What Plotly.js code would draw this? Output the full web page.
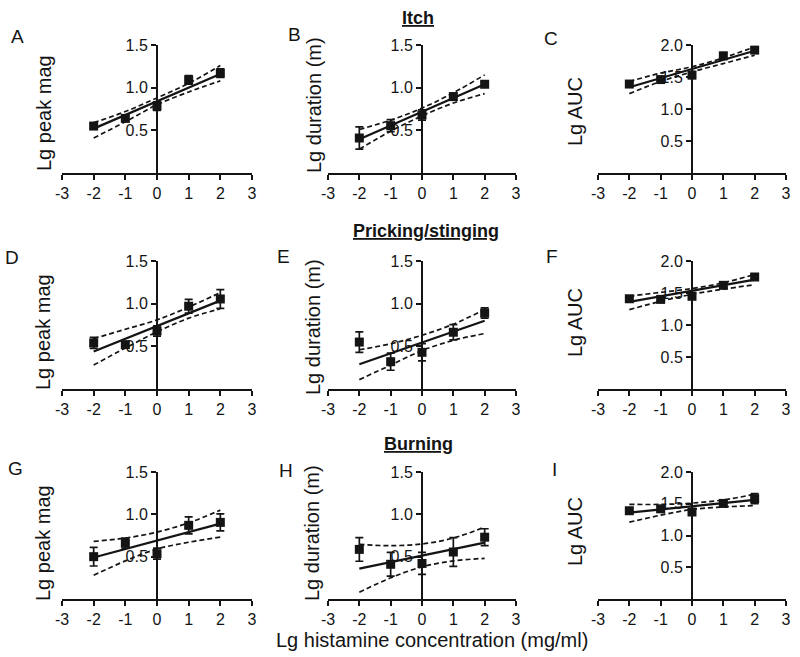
<!DOCTYPE html>
<html>
<head>
<meta charset="utf-8">
<script src="https://cdn.plot.ly/plotly-3.0.1.min.js"></script>
<style>html,body{margin:0;padding:0;background:#fff;}#chart{width:800px;height:657px;}</style>
</head>
<body>
<div id="chart"></div>
<script>
// ---- data ----
const doses = [-2, -1, 0, 1, 2];
const fitX = [-2, 2];
const xTickVals = [-3, -2, -1, 0, 1, 2, 3];
const xTickText = ['-3', '-2', '-1', '0', '1', '2', '3'];
const yTickVals15 = [0.5, 1.0, 1.5];
const yTickText15 = ['0.5', '1.0', '1.5'];
const yTickVals20 = [0.5, 1.0, 1.5, 2.0];
const yTickText20 = ['0.5', '1.0', '1.5', '2.0'];

const panelLetters = ['A', 'B', 'C', 'D', 'E', 'F', 'G', 'H', 'I'];
const yTitles = ['Lg peak mag', 'Lg duration (m)', 'Lg AUC'];
const rowHeadings = ['Itch', 'Pricking/stinging', 'Burning'];
const xTitle = 'Lg histamine concentration (mg/ml)';

const A_mean = [0.55, 0.64, 0.785, 1.09, 1.17];
const A_err = [0.03, 0.02, 0.05, 0.05, 0.05];
const A_fit = [0.52, 1.16];
const A_upper = [0.59, 0.72, 0.88, 1.05, 1.26];
const A_lower = [0.41, 0.60, 0.80, 0.95, 1.08];

const B_mean = [0.41, 0.555, 0.68, 0.895, 1.04];
const B_err = [0.13, 0.07, 0.06, 0.04, 0.02];
const B_fit = [0.395, 1.04];
const B_upper = [0.51, 0.62, 0.76, 0.94, 1.15];
const B_lower = [0.28, 0.49, 0.67, 0.82, 0.93];

const C_mean = [1.39, 1.46, 1.53, 1.83, 1.92];
const C_err = [0.03, 0.03, 0.05, 0.05, 0.03];
const C_fit = [1.34, 1.91];
const C_upper = [1.43, 1.56, 1.66, 1.80, 1.97];
const C_lower = [1.24, 1.43, 1.58, 1.71, 1.84];

const D_mean = [0.54, 0.52, 0.68, 0.97, 1.055];
const D_err = [0.065, 0.03, 0.06, 0.08, 0.11];
const D_fit = [0.44, 1.035];
const D_upper = [0.59, 0.70, 0.81, 0.96, 1.13];
const D_lower = [0.28, 0.48, 0.67, 0.83, 0.94];

const E_mean = [0.55, 0.32, 0.43, 0.665, 0.89];
const E_err = [0.12, 0.10, 0.10, 0.09, 0.06];
const E_fit = [0.29, 0.80];
const E_upper = [0.46, 0.53, 0.63, 0.76, 0.93];
const E_lower = [0.11, 0.28, 0.45, 0.57, 0.65];

const F_mean = [1.41, 1.40, 1.45, 1.62, 1.75];
const F_err = [0.03, 0.03, 0.05, 0.03, 0.04];
const F_fit = [1.36, 1.71];
const F_upper = [1.45, 1.51, 1.57, 1.66, 1.79];
const F_lower = [1.24, 1.37, 1.48, 1.56, 1.63];

const G_mean = [0.50, 0.66, 0.535, 0.87, 0.905];
const G_err = [0.11, 0.06, 0.065, 0.10, 0.10];
const G_fit = [0.49, 0.89];
const G_upper = [0.68, 0.72, 0.79, 0.90, 1.05];
const G_lower = [0.28, 0.45, 0.59, 0.67, 0.73];

const H_mean = [0.586, 0.41, 0.42, 0.555, 0.73];
const H_err = [0.14, 0.14, 0.13, 0.17, 0.10];
const H_fit = [0.36, 0.665];
const H_upper = [0.645, 0.63, 0.65, 0.72, 0.85];
const H_lower = [0.08, 0.25, 0.38, 0.45, 0.48];

const I_mean = [1.39, 1.42, 1.37, 1.505, 1.58];
const I_err = [0.03, 0.04, 0.03, 0.04, 0.08];
const I_fit = [1.36, 1.56];
const I_upper = [1.49, 1.49, 1.51, 1.56, 1.65];
const I_lower = [1.21, 1.32, 1.41, 1.45, 1.47];

const panels = [
  [A_mean, A_err, A_fit, A_upper, A_lower],
  [B_mean, B_err, B_fit, B_upper, B_lower],
  [C_mean, C_err, C_fit, C_upper, C_lower],
  [D_mean, D_err, D_fit, D_upper, D_lower],
  [E_mean, E_err, E_fit, E_upper, E_lower],
  [F_mean, F_err, F_fit, F_upper, F_lower],
  [G_mean, G_err, G_fit, G_upper, G_lower],
  [H_mean, H_err, H_fit, H_upper, H_lower],
  [I_mean, I_err, I_fit, I_upper, I_lower]
];

// ---- layout geometry (pixels) ----
const W = 800, H = 657;
const colPx = [[62, 252], [328, 516], [598, 786]];
const rowPx = [[45, 173], [261, 389], [472, 599]];
const px = x => x / W;
const py = y => 1 - y / H;

const FONT = 'Liberation Sans, Arial, sans-serif';
const INK = '#141414';

const traces = [];
const layout = {
  width: W, height: H,
  margin: {l: 0, r: 0, t: 0, b: 0},
  paper_bgcolor: '#fff', plot_bgcolor: 'rgba(0,0,0,0)',
  showlegend: false,
  font: {family: FONT, color: INK, size: 16},
  annotations: []
};

const letterPos = [[17, 36], [294, 35], [551, 39], [12, 257], [283, 256], [552, 256], [15, 468], [286, 470], [554, 469]];
const yTitlePos = [[44, 113], [314, 105], [575, 112], [43, 332], [313, 327], [575, 323], [43, 543], [312, 533], [575, 532]];
const headingPos = [[418, 18], [426, 231], [418, 444]];

panels.forEach((p, i) => {
  const r = Math.floor(i / 3), c = i % 3;
  const sfx = i === 0 ? '' : String(i + 1);
  const xa = 'x' + sfx, ya = 'y' + sfx;
  const [mean, err, fit, upper, lower] = p;
  const isAUC = c === 2;

  traces.push({x: doses, y: upper, xaxis: xa, yaxis: ya, mode: 'lines', line: {color: INK, width: 1.7, dash: '5px,3px', shape: 'spline'}, hoverinfo: 'skip'});
  traces.push({x: doses, y: lower, xaxis: xa, yaxis: ya, mode: 'lines', line: {color: INK, width: 1.7, dash: '5px,3px', shape: 'spline'}, hoverinfo: 'skip'});
  traces.push({x: fitX, y: fit, xaxis: xa, yaxis: ya, mode: 'lines', line: {color: INK, width: 2.3}, hoverinfo: 'skip'});
  traces.push({x: doses, y: mean, xaxis: xa, yaxis: ya, mode: 'markers',
    marker: {symbol: 'square', size: 9, color: INK},
    error_y: {type: 'data', array: err, visible: true, color: INK, thickness: 1.7, width: 4}});

  const d0 = px(colPx[c][0]), d1 = px(colPx[c][1]);
  layout['xaxis' + sfx] = {
    domain: [d0, d1], range: [-3, 3], anchor: ya,
    showline: true, linecolor: INK, linewidth: 2,
    ticks: 'outside', ticklen: 5, tickwidth: 2, tickcolor: INK,
    tickvals: xTickVals, ticktext: xTickText,
    tickfont: {family: FONT, size: 16, color: INK},
    showgrid: false, zeroline: false, fixedrange: true, layer: 'below traces'
  };
  layout['yaxis' + sfx] = {
    domain: [py(rowPx[r][1]), py(rowPx[r][0])],
    range: [0, isAUC ? 2.0 : 1.5],
    anchor: 'free', position: (d0 + d1) / 2,
    showline: true, linecolor: INK, linewidth: 2,
    ticks: 'outside', ticklen: 5, tickwidth: 2, tickcolor: INK,
    tickvals: isAUC ? yTickVals20 : yTickVals15,
    ticktext: isAUC ? yTickText20 : yTickText15,
    tickfont: {family: FONT, size: 16, color: INK},
    showgrid: false, zeroline: false, fixedrange: true, layer: 'below traces'
  };

  layout.annotations.push({
    xref: 'paper', yref: 'paper', x: px(letterPos[i][0]), y: py(letterPos[i][1]),
    xanchor: 'center', yanchor: 'middle', showarrow: false,
    text: panelLetters[i], font: {family: FONT, size: 19, color: INK}
  });
  layout.annotations.push({
    xref: 'paper', yref: 'paper', x: px(yTitlePos[i][0]), y: py(yTitlePos[i][1]),
    xanchor: 'center', yanchor: 'middle', showarrow: false, textangle: -90,
    text: yTitles[c], font: {family: FONT, size: 20, color: INK}
  });
});

rowHeadings.forEach((t, r) => {
  layout.annotations.push({
    xref: 'paper', yref: 'paper', x: px(headingPos[r][0]), y: py(headingPos[r][1]),
    xanchor: 'center', yanchor: 'middle', showarrow: false,
    text: '<b><u>' + t + '</u></b>', font: {family: FONT, size: 18, color: INK}
  });
});

layout.annotations.push({
  xref: 'paper', yref: 'paper', x: px(432), y: py(640),
  xanchor: 'center', yanchor: 'middle', showarrow: false,
  text: xTitle, font: {family: FONT, size: 20, color: INK}
});

Plotly.newPlot('chart', traces, layout, {staticPlot: true, displayModeBar: false});
</script>
</body>
</html>
